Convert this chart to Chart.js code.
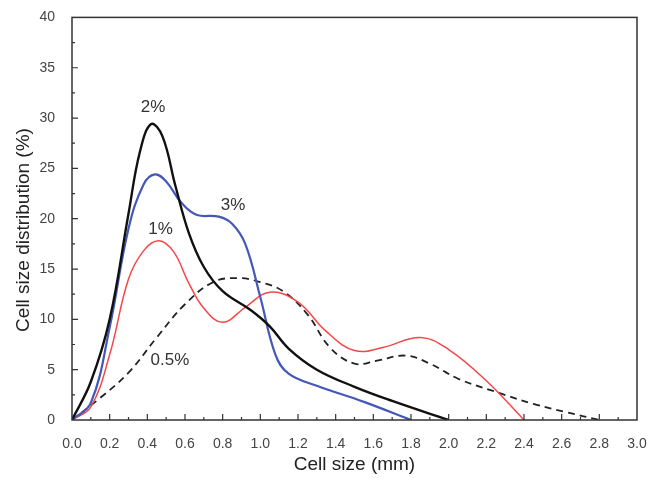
<!DOCTYPE html>
<html>
<head>
<meta charset="utf-8">
<script src="https://cdn.jsdelivr.net/npm/chart.js@4"></script>
<style>
  body { margin: 0; background: #fff; }
  #wrap { width: 655px; height: 478px; }
</style>
</head>
<body>
<div id="wrap"><canvas id="chart" width="655" height="478"></canvas></div>
<script>
// cell size (mm) / distribution (%)
var x2pct = [0, 0.1, 0.2, 0.3, 0.36, 0.42, 0.48, 0.55, 0.62, 0.7, 0.8, 0.95, 1.05, 1.15, 1.3, 1.5, 1.7, 2.0];
var y2pct = [0, 3.8, 10.0, 20.5, 26.6, 29.4, 28.2, 23.2, 18.6, 15.2, 12.8, 10.9, 9.3, 7.1, 5.0, 3.3, 1.9, 0];

var x3pct = [0, 0.1, 0.2, 0.3, 0.38, 0.44, 0.5, 0.58, 0.66, 0.78, 0.85, 0.92, 1.0, 1.08, 1.15, 1.3, 1.55, 1.8];
var y3pct = [0, 1.7, 9.2, 19.0, 23.4, 24.4, 23.7, 21.6, 20.4, 20.2, 19.5, 17.5, 12.2, 6.5, 4.6, 3.4, 1.8, 0];

var x1pct = [0, 0.1, 0.2, 0.3, 0.38, 0.46, 0.54, 0.62, 0.7, 0.8, 0.92, 1.05, 1.2, 1.35, 1.5, 1.65, 1.85, 2.0, 2.2, 2.4];
var y1pct = [0, 1.3, 6.5, 14.0, 16.8, 17.8, 16.7, 13.6, 11.1, 9.7, 11.2, 12.7, 11.7, 8.8, 6.9, 7.2, 8.2, 7.0, 3.9, 0];

var x05pct = [0, 0.15, 0.3, 0.45, 0.6, 0.75, 0.88, 1.0, 1.12, 1.25, 1.37, 1.5, 1.62, 1.77, 1.9, 2.05, 2.25, 2.45, 2.62, 2.8];
var y05pct = [0, 2.2, 4.7, 8.2, 11.5, 13.7, 14.1, 13.7, 12.8, 10.5, 7.2, 5.6, 5.9, 6.4, 5.6, 4.1, 2.8, 1.6, 0.8, 0];

// curve labels, placed in data units
var labelTexts = ["2%", "3%", "1%", "0.5%"];
var labelX     = [0.43, 0.855, 0.47, 0.52];
var labelY     = [31.1, 21.3, 18.9, 5.9];

var xTitle = "Cell size (mm)";
var yTitle = "Cell size distribution (%)";

function pts(xs, ys) {
    var out = [];
    for (var i = 0; i < xs.length; i++) {
        out.push({ x: xs[i], y: ys[i] });
    }
    return out;
}

// frame, inward ticks, curve labels and y title
var decor = {
    id: 'decor',
    afterDraw: function(chart) {
        var ctx = chart.ctx;
        var a   = chart.chartArea;
        var xs  = chart.scales.x;
        var ys  = chart.scales.y;

        ctx.save();
        ctx.strokeStyle = '#333';
        ctx.lineWidth = 1.5;
        ctx.strokeRect(a.left, a.top, a.right - a.left, a.bottom - a.top);

        ctx.lineWidth = 1.2;
        ctx.beginPath();
        for (var i = 1; i < 30; i++) {
            var px = xs.getPixelForValue(i / 10);
            var len = (i % 2 == 0) ? 6 : 3;
            ctx.moveTo(px, a.bottom);
            ctx.lineTo(px, a.bottom - len);
        }
        for (var j = 1; j < 16; j++) {
            var py = ys.getPixelForValue(j * 2.5);
            var ylen = (j % 2 == 0) ? 6 : 3;
            ctx.moveTo(a.left, py);
            ctx.lineTo(a.left + ylen, py);
        }
        ctx.stroke();

        ctx.fillStyle = '#333';
        ctx.font = '17px "Liberation Sans", Arial, sans-serif';
        ctx.textAlign = 'center';
        ctx.textBaseline = 'middle';
        for (var k = 0; k < labelTexts.length; k++) {
            ctx.fillText(labelTexts[k], xs.getPixelForValue(labelX[k]), ys.getPixelForValue(labelY[k]));
        }

        ctx.fillStyle = '#222';
        ctx.font = '19px "Liberation Sans", Arial, sans-serif';
        ctx.translate(24, 230);
        ctx.rotate(-Math.PI / 2);
        ctx.fillText(yTitle, 0, 0);
        ctx.restore();
    }
};

var ctx = document.getElementById('chart').getContext('2d');
var chart = new Chart(ctx, {
    type: 'line',
    data: {
        datasets: [
            { label: '2%',   data: pts(x2pct, y2pct),   borderColor: '#111',    borderWidth: 2.4 },
            { label: '3%',   data: pts(x3pct, y3pct),   borderColor: '#4458b8', borderWidth: 2.2 },
            { label: '1%',   data: pts(x1pct, y1pct),   borderColor: '#f4474a', borderWidth: 1.5 },
            { label: '0.5%', data: pts(x05pct, y05pct), borderColor: '#222',    borderWidth: 1.8, borderDash: [7, 5] }
        ]
    },
    options: {
        responsive: false,
        animation: false,
        devicePixelRatio: 1,
        layout: { padding: { top: 15, right: 18, left: 0, bottom: 0 } },
        elements: {
            point: { radius: 0 },
            line: { tension: 0.4, fill: false }
        },
        plugins: {
            legend: { display: false },
            tooltip: { enabled: false }
        },
        scales: {
            x: {
                type: 'linear',
                min: 0,
                max: 3,
                grid: { display: false },
                border: { display: false },
                ticks: {
                    stepSize: 0.2,
                    padding: 8,
                    color: '#444',
                    font: { family: '"Liberation Sans", Arial, sans-serif', size: 14 },
                    maxRotation: 0,
                    autoSkip: false,
                    callback: function(v) { return v.toFixed(1); }
                },
                title: {
                    display: true,
                    text: xTitle,
                    color: '#222',
                    font: { family: '"Liberation Sans", Arial, sans-serif', size: 19 },
                    padding: { top: 0, bottom: 2 }
                },
                afterFit: function(scale) { scale.height = 58; }
            },
            y: {
                min: 0,
                max: 40,
                grid: { display: false },
                border: { display: false },
                ticks: {
                    stepSize: 5,
                    padding: 9,
                    color: '#444',
                    font: { family: '"Liberation Sans", Arial, sans-serif', size: 14 }
                },
                afterFit: function(scale) { scale.width = 72; }
            }
        }
    },
    plugins: [decor]
});
</script>
</body>
</html>
